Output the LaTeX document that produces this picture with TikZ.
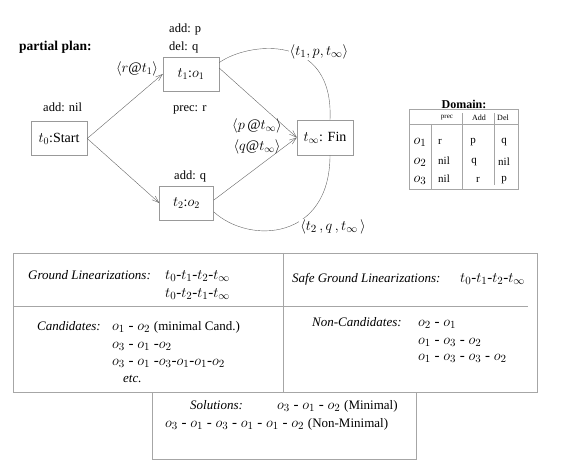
\documentclass[tikz,border=0pt]{standalone}
\usepackage{fontspec}
\setmainfont{Liberation Serif}
\usetikzlibrary{arrows.meta}
\newcommand{\plainnote}[1]{{\fontsize{13}{15}\selectfont #1}}
\tikzset{
  box/.style={draw=black!40, minimum width=56pt, minimum height=34pt, inner sep=0pt, font=\fontsize{14}{16}\selectfont},
  lbl/.style={inner sep=1pt, font=\fontsize{12.5}{14}\selectfont},
  mlbl/.style={inner sep=1pt, font=\fontsize{14.5}{16}\selectfont},
  link/.style={draw=black!60, -{Straight Barb[length=7pt,width=5pt]}},
  arcline/.style={draw=black!60},
  frame/.style={draw=black!35},
  txt/.style={anchor=mid west, inner sep=0pt, font=\fontsize{15}{17}\selectfont},
  itxt/.style={anchor=mid west, inner sep=0pt, font=\itshape\fontsize{13}{15}\selectfont},
  tab/.style={inner sep=0pt, font=\fontsize{11}{13}\selectfont},
}
\begin{document}
\begin{tikzpicture}[x=1pt,y=-1pt]
  \useasboundingbox (0,0) rectangle (570,470);
  % partial plan
  \node[lbl, anchor=mid west, font=\bfseries\fontsize{13.5}{15}\selectfont] (title) at (18,48) {partial plan:};
  \node[box] (t0) at (59,138.5) {$t_0$:Start};
  \node[box] (t1) at (191,74) {$t_1$:$o_1$};
  \node[box, minimum width=54pt] (t2) at (186.5,203) {$t_2$:$o_2$};
  \node[box, minimum height=35pt] (fin) at (325,137.5) {$t_\infty$: Fin};
  \node[lbl, anchor=mid west] (addp) at (168,30) {add: p};
  \node[lbl, anchor=mid west] (delq) at (168,48) {del: q};
  \node[lbl, anchor=mid west] (precr) at (172,109) {prec: r};
  \node[lbl, anchor=mid west] (addnil) at (42,109) {add: nil};
  \node[lbl, anchor=mid west] (addq) at (173,177) {add: q};
  \draw[link] (t0.east) -- (t1.west);
  \draw[link] (t0.east) -- (t2.west);
  \draw[link] (t1.12) -- (fin.west);
  \draw[link] (t2.6) -- (fin.west);
  \draw[arcline] (t1.22) .. controls (248,42) and (334,32) .. ([xshift=5pt]fin.north);
  \draw[arcline] (t2.-18) .. controls (250,245) and (330,240) .. ([xshift=5pt]fin.south);
  \node[mlbl] (rt1) at (137,69) {$\langle r@t_1\rangle$};
  \node[mlbl] (pfin) at (257,126) {$\langle p\,@t_\infty\rangle$};
  \node[mlbl] (qfin) at (257,147) {$\langle q@t_\infty\rangle$};
  \node[mlbl, fill=white, font=\fontsize{15}{17}\selectfont] (l1) at (319,52) {$\langle t_1, p, t_\infty\rangle$};
  \node[mlbl, fill=white, font=\fontsize{15}{17}\selectfont] (l2) at (333,227) {$\langle t_2\,, q\,, t_\infty\,\rangle$};
  % domain
  \node[font=\bfseries\fontsize{12}{14}\selectfont, inner sep=0pt] (domain) at (464,104) {Domain:};
  \draw[frame] (409,109) rectangle (518,189);
  \draw[frame] (409,124) -- (518,124);
  \draw[frame] (431,124) -- (431,189);
  \draw[frame] (462,113) -- (462,189);
  \draw[frame] (494,113) -- (494,185);
  \node[tab, font=\fontsize{7}{8}\selectfont] (hprec) at (447,118) {prec};
  \node[tab, font=\fontsize{8}{9}\selectfont] (hadd) at (479,118) {Add};
  \node[tab, font=\fontsize{8}{9}\selectfont] (hdel) at (503,118) {Del};
  \foreach \i/\pr/\ad/\de/\y/\ax in {1/r/p/q/142/473, 2/nil/q/nil/162/474, 3/nil/r/p/180/478} {
    \node[tab, font=\fontsize{15}{17}\selectfont] (o\i) at (420,\y) {$o_\i$};
    \node[tab, anchor=mid west] (pr\i) at (438,\y) {\pr};
    \node[tab] (ad\i) at (\ax,\y) {\ad};
    \node[tab] (de\i) at (504,\y) {\de};
  }
  % linearizations
  \draw[frame] (13,253) rectangle (537,392);
  \draw[frame] (13,306) -- (528,306);
  \draw[frame] (283,253) -- (283,392);
  \draw[frame] (152,392) -- (152,459) -- (416,459) -- (416,392);
  \node[itxt] (gl) at (28,277) {Ground Linearizations:};
  \node[txt] (gl1) at (165,277) {$t_0$-$t_1$-$t_2$-$t_\infty$};
  \node[txt] (gl2) at (165,295) {$t_0$-$t_2$-$t_1$-$t_\infty$};
  \node[itxt] (sgl) at (292,280) {Safe Ground Linearizations:};
  \node[txt] (sgl1) at (460,280) {$t_0$-$t_1$-$t_2$-$t_\infty$};
  \node[itxt] (cand) at (37,328) {Candidates:};
  \node[txt] (c1) at (112,328) {$o_1$ - $o_2$ \plainnote{(minimal Cand.)}};
  \node[txt] (c2) at (112,346) {$o_3$ - $o_1$ -$o_2$};
  \node[txt] (c3) at (112,363) {$o_3$ - $o_1$ -$o_3$-$o_1$-$o_1$-$o_2$};
  \node[itxt] (etc) at (123,380) {etc.};
  \node[itxt] (ncand) at (312,324) {Non-Candidates:};
  \node[txt] (n1) at (418,324) {$o_2$ - $o_1$};
  \node[txt] (n2) at (418,342) {$o_1$ - $o_3$ - $o_2$};
  \node[txt] (n3) at (418,358) {$o_1$ - $o_3$ - $o_3$ - $o_2$};
  \node[itxt] (sol) at (190,407) {Solutions:};
  \node[txt] (s1) at (277,407) {$o_3$ - $o_1$ - $o_2$ \plainnote{(Minimal)}};
  \node[txt] (s2) at (165,425) {$o_3$ - $o_1$ - $o_3$ - $o_1$ - $o_1$ - $o_2$ \plainnote{(Non-Minimal)}};
\end{tikzpicture}
\end{document}
